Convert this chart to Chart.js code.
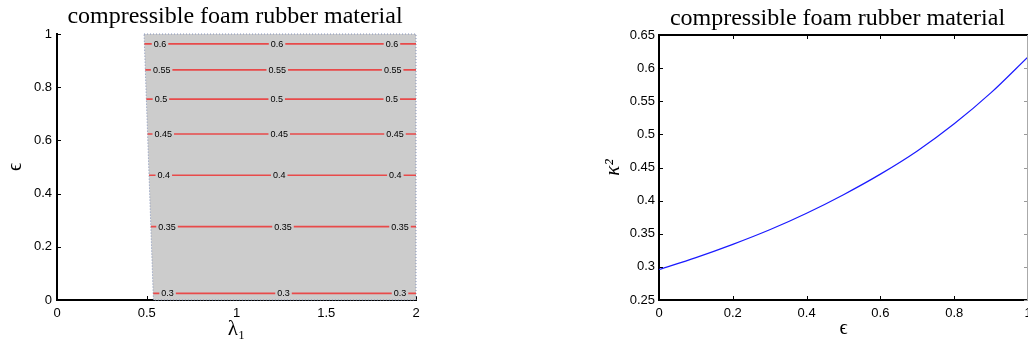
<!DOCTYPE html>
<html><head><meta charset="utf-8">
<script src="https://cdn.jsdelivr.net/npm/chart.js@4.4.1/dist/chart.umd.min.js"></script>
<style>
html,body{margin:0;padding:0;background:#fff;width:1028px;height:343px;overflow:hidden;position:relative}
#w1{position:absolute;left:0;top:0;width:440px;height:343px}
#w2{position:absolute;left:580px;top:0;width:448px;height:343px}
</style></head><body>
<div id="w1"><canvas id="c1"></canvas></div>
<div id="w2"><canvas id="c2"></canvas></div>
<script>
// ---------- data ----------
const titleText = 'compressible foam rubber material';
// left panel: contour levels of kappa^2 over (lambda1, epsilon)
const levels = [0.3, 0.35, 0.4, 0.45, 0.5, 0.55, 0.6];
const levelEps = [0.025, 0.276, 0.469, 0.624, 0.755, 0.865, 0.963];
const levelStartLambda = [0.536, 0.523, 0.513, 0.505, 0.498, 0.492, 0.487];
const levelEndLambda = [2, 2, 2, 2, 2, 2, 2];
const labelLambda = [
  [0.616, 1.262, 1.911],
  [0.613, 1.259, 1.911],
  [0.595, 1.238, 1.885],
  [0.592, 1.238, 1.883],
  [0.579, 1.224, 1.865],
  [0.583, 1.227, 1.870],
  [0.574, 1.226, 1.866]
];
const regionLambda = [0.485, 2, 2, 0.537, 0.485];
const regionEps = [1, 1, 0, 0, 1];
const lambdaTicks = [0, 0.5, 1, 1.5, 2];
const epsTicksLeft = [0, 0.2, 0.4, 0.6, 0.8, 1];
// right panel: kappa^2 vs epsilon
const epsValues = [0, 0.1, 0.2, 0.3, 0.4, 0.5, 0.6, 0.7, 0.8, 0.9, 1.0];
const kappa2 = [0.296, 0.314, 0.334, 0.356, 0.381, 0.409, 0.440, 0.475, 0.516, 0.563, 0.617];
const epsTicksRight = [0, 0.2, 0.4, 0.6, 0.8, 1];
const kappaTicks = [0.25, 0.3, 0.35, 0.4, 0.45, 0.5, 0.55, 0.6, 0.65];

// ---------- styling ----------
Chart.defaults.font.family = '"Liberation Sans", Arial, sans-serif';
Chart.defaults.font.size = 13;
Chart.defaults.color = '#000';
const GRAY = '#cccccc';
const RED = '#e84a4a';

function titlePlugin(cxOffset, baseline) {
  return { id: 'ttl', afterDraw(chart) {
    const {ctx, chartArea: a} = chart;
    ctx.save();
    ctx.font = '24px "Liberation Serif", "Times New Roman", serif';
    ctx.fillStyle = '#000';
    ctx.textAlign = 'center';
    ctx.textBaseline = 'alphabetic';
    ctx.fillText(titleText, (a.left + a.right) / 2 + cxOffset, baseline);
    ctx.restore();
  }};
}
function ticksPlugin(box) {
  return { id: 'inticks', beforeDatasetsDraw(chart) {
    const {ctx, chartArea: a, scales: {x, y}} = chart;
    ctx.save();
    ctx.lineWidth = 1;
    ctx.strokeStyle = '#000';
    ctx.beginPath();
    for (const t of x.ticks) {
      const p = Math.round(x.getPixelForValue(t.value)) + 0.5;
      ctx.moveTo(p, a.bottom); ctx.lineTo(p, a.bottom - 4);
      if (box) { ctx.moveTo(p, a.top); ctx.lineTo(p, a.top + 4); }
    }
    for (const t of y.ticks) {
      const p = Math.round(y.getPixelForValue(t.value)) + 0.5;
      ctx.moveTo(a.left, p); ctx.lineTo(a.left + 4, p);
    }
    ctx.stroke();
    if (box) {
      ctx.strokeStyle = '#999';
      ctx.beginPath();
      for (const t of y.ticks) {
        const p = Math.round(y.getPixelForValue(t.value)) + 0.5;
        ctx.moveTo(a.right, p); ctx.lineTo(a.right - 4, p);
      }
      ctx.stroke();
    }
    ctx.restore();
  }, afterDraw(chart) {
    if (!box) return;
    const {ctx, chartArea: a} = chart;
    ctx.save();
    ctx.strokeStyle = '#000'; ctx.lineWidth = 2;
    ctx.beginPath(); ctx.moveTo(a.left - 1, a.top); ctx.lineTo(a.right, a.top); ctx.stroke();
    ctx.strokeStyle = '#aaa'; ctx.lineWidth = 1;
    ctx.beginPath(); ctx.moveTo(a.right - 0.5, a.top); ctx.lineTo(a.right - 0.5, a.bottom); ctx.stroke();
    ctx.restore();
  }};
}
const contourLabels = { id: 'clabels', afterDatasetsDraw(chart) {
  const {ctx, scales: {x, y}} = chart;
  ctx.save();
  ctx.font = '9px "Liberation Sans", Arial, sans-serif';
  ctx.textAlign = 'center';
  ctx.textBaseline = 'middle';
  levels.forEach((lv, i) => {
    const py = y.getPixelForValue(levelEps[i]);
    labelLambda[i].forEach(lam => {
      const px = x.getPixelForValue(lam);
      const txt = String(lv);
      const w = ctx.measureText(txt).width;
      ctx.fillStyle = GRAY;
      ctx.fillRect(px - w / 2 - 2, py - 2, w + 4, 4);
      ctx.fillStyle = '#000';
      ctx.fillText(txt, px, py + 0.5);
    });
  });
  ctx.restore();
}};
function fixTicks(arr) { return s => { s.ticks = arr.map(v => ({value: v})); }; }
function fitW(w) { return s => { s.width = w; s.paddingTop = 0; s.paddingBottom = 0; }; }
function fitH(h) { return s => { s.height = h; s.paddingLeft = 0; s.paddingRight = 0; }; }

// ---------- left chart ----------
const leftDatasets = levels.map((lv, i) => ({
  label: String(lv),
  data: [{x: levelStartLambda[i], y: levelEps[i]}, {x: levelEndLambda[i], y: levelEps[i]}],
  borderColor: RED, borderWidth: 1.6, pointRadius: 0, fill: false, order: 1
}));
leftDatasets.push({
  label: 'region',
  data: regionLambda.map((l, i) => ({x: l, y: regionEps[i]})),
  borderColor: '#8090b8', borderWidth: 1, borderDash: [1, 2],
  backgroundColor: GRAY, fill: 'shape', pointRadius: 0, order: 2, clip: 2
});

new Chart(document.getElementById('c1'), {
  type: 'line',
  data: { datasets: leftDatasets },
  options: {
    animation: false, responsive: true, maintainAspectRatio: false, devicePixelRatio: 1,
    layout: { autoPadding: false, padding: { left: 0, right: 24, top: 34, bottom: 0 } },
    plugins: { legend: { display: false }, tooltip: { enabled: false }, title: { display: false } },
    scales: {
      x: {
        type: 'linear', min: 0, max: 2,
        afterBuildTicks: fixTicks(lambdaTicks), afterFit: fitH(43),
        grid: { display: false, drawTicks: false },
        border: { display: true, color: '#000', width: 2 },
        ticks: { padding: 6, maxRotation: 0, autoSkip: false, callback: v => String(v), font: { size: 13 } },
        title: { display: true, text: 'λ₁', font: { family: '"Liberation Serif", "DejaVu Serif", serif', size: 21, lineHeight: 1 }, padding: { top: 0, bottom: 3 } }
      },
      y: {
        type: 'linear', min: 0, max: 1,
        afterBuildTicks: fixTicks(epsTicksLeft), afterFit: fitW(57),
        grid: { display: false, drawTicks: false },
        border: { display: true, color: '#000', width: 2 },
        ticks: { padding: 5, autoSkip: false, callback: v => String(v), font: { size: 13 } },
        title: { display: true, text: 'ϵ', font: { family: '"Liberation Serif", "DejaVu Serif", serif', size: 20, lineHeight: 1 }, padding: { top: 6, bottom: 0 } }
      }
    }
  },
  plugins: [titlePlugin(-1.5, 23), ticksPlugin(false), contourLabels]
});

// ---------- right chart ----------
new Chart(document.getElementById('c2'), {
  type: 'line',
  data: { datasets: [{
    label: 'kappa2',
    data: epsValues.map((e, i) => ({x: e, y: kappa2[i]})),
    borderColor: '#1a1aff', borderWidth: 1.2, pointRadius: 0, fill: false,
    cubicInterpolationMode: 'monotone'
  }] },
  options: {
    animation: false, responsive: true, maintainAspectRatio: false, devicePixelRatio: 1,
    layout: { autoPadding: false, padding: { left: 0, right: 0, top: 35, bottom: 0 } },
    plugins: { legend: { display: false }, tooltip: { enabled: false }, title: { display: false } },
    scales: {
      x: {
        type: 'linear', min: 0, max: 1,
        afterBuildTicks: fixTicks(epsTicksRight), afterFit: fitH(43),
        grid: { display: false, drawTicks: false },
        border: { display: true, color: '#000', width: 2 },
        ticks: { padding: 6, maxRotation: 0, autoSkip: false, callback: v => String(v), font: { size: 13 } },
        title: { display: true, text: 'ϵ', font: { family: '"Liberation Serif", "DejaVu Serif", serif', size: 20, lineHeight: 1 }, padding: { top: 0, bottom: 4 } }
      },
      y: {
        type: 'linear', min: 0.25, max: 0.65,
        afterBuildTicks: fixTicks(kappaTicks), afterFit: fitW(79),
        grid: { display: false, drawTicks: false },
        border: { display: true, color: '#000', width: 2 },
        ticks: { padding: 4, autoSkip: false, callback: v => String(v), font: { size: 13 } },
        title: { display: true, text: 'κ²', font: { family: '"Liberation Serif", "DejaVu Serif", serif', size: 21, style: 'italic', lineHeight: 1 }, padding: { top: 23, bottom: 0 } }
      }
    }
  },
  plugins: [titlePlugin(-6, 25), ticksPlugin(true)]
});
</script>
</body></html>
